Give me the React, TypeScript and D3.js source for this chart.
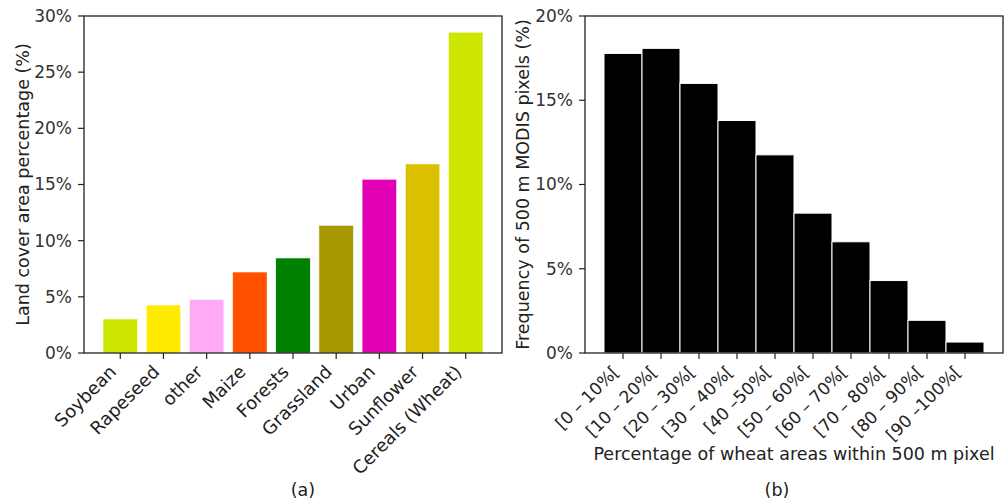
import React from "react";
import * as d3 from "d3";

const landCategories = ["Soybean", "Rapeseed", "other", "Maize", "Forests", "Grassland", "Urban", "Sunflower", "Cereals (Wheat)"];
const landValues = [3.03, 4.27, 4.78, 7.21, 8.46, 11.37, 15.47, 16.83, 28.56];
const landColors = ["#cde700", "#ffeb00", "#ffaaf2", "#ff5100", "#008000", "#a89800", "#e100b4", "#dbc000", "#cde700"];
const leftTicks = [0, 5, 10, 15, 20, 25, 30];

const binLabels = ["[0 – 10%[", "[10 – 20%[", "[20 – 30%[", "[30 – 40%[", "[40 –50%[", "[50 – 60%[", "[60 – 70%[", "[70 – 80%[", "[80 – 90%[", "[90 –100%["];
const binValues = [17.78, 18.08, 16.0, 13.8, 11.76, 8.3, 6.6, 4.3, 1.94, 0.65];
const rightTicks = [0, 5, 10, 15, 20];

const FONT = "'DejaVu Sans', sans-serif";
const FS = 17;
const TS = 17.5;

export default function App() {
  const top = 16, bottom = 353;
  const xL = d3.scaleLinear().domain([-0.84, 8.84]).range([84, 502]);
  const yL = d3.scaleLinear().domain([0, 30]).range([bottom, top]);
  const xR = d3.scaleLinear().domain([-1, 10]).range([585, 1003]);
  const yR = d3.scaleLinear().domain([0, 20]).range([bottom, top]);
  const tickLen = 6;

  const yAxis = (x0: number, y: d3.ScaleLinear<number, number>, ticks: number[]) =>
    ticks.map((t) => (
      <g key={"y" + t}>
        <line x1={x0 - tickLen} x2={x0} y1={y(t)} y2={y(t)} stroke="#222" strokeWidth={1.2} />
        <text x={x0 - tickLen - 6} y={y(t)} dy="0.35em" textAnchor="end" fontSize={FS} fill="#333">{t}%</text>
      </g>
    ));

  const xLabels = (x: d3.ScaleLinear<number, number>, labels: string[], fs: number) =>
    labels.map((lab, i) => (
      <g key={"x" + i}>
        <line x1={x(i)} x2={x(i)} y1={bottom} y2={bottom + tickLen} stroke="#222" strokeWidth={1.2} />
        <text transform={`translate(${x(i) - 3},${bottom + 20}) rotate(-45)`} textAnchor="end" fontSize={fs} fill="#222">{lab}</text>
      </g>
    ));

  return (
    <svg width={1007} height={503} style={{ position: "absolute", left: 0, top: 0, background: "#fff" }} fontFamily={FONT}>
      {/* Left panel */}
      {landValues.map((v, i) => (
        <rect key={"lb" + i} x={xL(i - 0.4)} y={yL(v)} width={xL(0.8) - xL(0)} height={yL(0) - yL(v)} fill={landColors[i]} stroke="#fff" strokeWidth={0.6} />
      ))}
      <rect x={84} y={top} width={502 - 84} height={bottom - top} fill="none" stroke="#222" strokeWidth={1.3} />
      {yAxis(84, yL, leftTicks)}
      {xLabels(xL, landCategories, 18)}
      <text transform={`translate(29,${(top + bottom) / 2}) rotate(-90)`} textAnchor="middle" fontSize={TS} fill="#222">Land cover area percentage (%)</text>
      <text x={303} y={496} textAnchor="middle" fontSize={TS} fill="#222">(a)</text>

      {/* Right panel */}
      {binValues.map((v, i) => (
        <rect key={"rb" + i} x={xR(i - 0.5)} y={yR(v)} width={xR(1) - xR(0)} height={yR(0) - yR(v)} fill="#000" stroke="#fff" strokeWidth={1} />
      ))}
      <rect x={585} y={top} width={1003 - 585} height={bottom - top} fill="none" stroke="#222" strokeWidth={1.3} />
      {yAxis(585, yR, rightTicks)}
      {xLabels(xR, binLabels, 17)}
      <text transform={`translate(529,${(top + bottom) / 2}) rotate(-90)`} textAnchor="middle" fontSize={TS} fill="#222">Frequency of 500 m MODIS pixels (%)</text>
      <text x={794} y={460} textAnchor="middle" fontSize={TS} fill="#222">Percentage of wheat areas within 500 m pixel</text>
      <text x={777} y={496} textAnchor="middle" fontSize={TS} fill="#222">(b)</text>
    </svg>
  );
}
